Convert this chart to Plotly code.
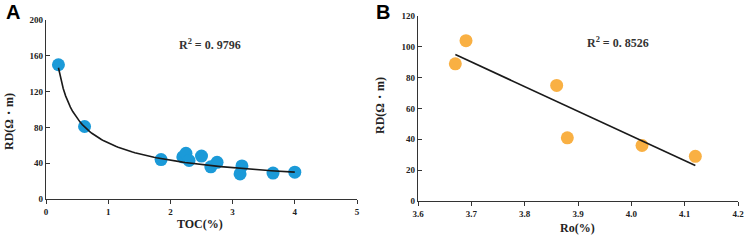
import numpy as np
import plotly.graph_objects as go

# Panel A data
toc = [0.2, 0.62, 1.85, 2.2, 2.25, 2.3, 2.5, 2.65, 2.75, 3.12, 3.15, 3.65, 4.0]
rd_a = [150, 81, 44, 47, 51, 43, 48, 36, 41, 28, 37, 29, 30]
# power fit y = a*x^b
fit_a_coef = 62.5
fit_a_exp = -0.53
# Panel B data
ro = [3.67, 3.69, 3.86, 3.88, 4.02, 4.12]
rd_b = [89, 104, 75, 41, 36, 29]
fit_b_x = [3.67, 4.12]
fit_b_y = [95, 23]

xt_a = [0, 1, 2, 3, 4, 5]
yt_a = [0, 40, 80, 120, 160, 200]
xt_b = [3.6, 3.7, 3.8, 3.9, 4.0, 4.1, 4.2]
xt_b_lab = ["3.6", "3.7", "3.8", "3.9", "4.0", "4.1", "4.2"]
yt_b = [0, 20, 40, 60, 80, 100, 120]

SERIF = "Liberation Serif"
fig = go.Figure()

xc = np.linspace(0.2, 4.0, 100)
fig.add_trace(go.Scatter(x=toc, y=rd_a, mode="markers",
                         marker=dict(color="#1B9AD8", size=13), xaxis="x", yaxis="y", showlegend=False))
fig.add_trace(go.Scatter(x=xc, y=fit_a_coef * xc ** fit_a_exp, mode="lines",
                         line=dict(color="#1a1a1a", width=1.6), xaxis="x", yaxis="y", showlegend=False))
fig.add_trace(go.Scatter(x=ro, y=rd_b, mode="markers",
                         marker=dict(color="#F9B043", size=13), xaxis="x2", yaxis="y2", showlegend=False))
fig.add_trace(go.Scatter(x=fit_b_x, y=fit_b_y, mode="lines",
                         line=dict(color="#1a1a1a", width=1.6), xaxis="x2", yaxis="y2", showlegend=False))

tickfont = dict(family=SERIF, size=9, color="#222", weight="bold")
common = dict(showgrid=False, zeroline=False, showline=True, linecolor="#333", linewidth=1.3,
              ticklen=4, tickcolor="#333", tickfont=tickfont, automargin=False, tickmode="array")

fig.update_layout(
    width=747, height=240,
    margin=dict(l=0, r=0, t=0, b=0),
    plot_bgcolor="white", paper_bgcolor="white",
    xaxis=dict(domain=[46/747, 357/747], range=[0, 5], tickvals=xt_a,
               ticks="outside", anchor="y", **common),
    yaxis=dict(domain=[41/240, 220/240], range=[0, 200], tickvals=yt_a,
               ticks="inside", anchor="x", **common),
    xaxis2=dict(domain=[418/747, 738/747], range=[3.6, 4.2], tickvals=xt_b, ticktext=xt_b_lab,
                ticks="outside", anchor="y2", **common),
    yaxis2=dict(domain=[39/240, 224/240], range=[0, 120], tickvals=yt_b,
                ticks="inside", anchor="x2", **common),
)

ann_font = dict(family=SERIF, size=12, color="#222")


def pann(text, px, py, font, angle=0):
    return dict(text=text, x=px/747, y=1-py/240, xref="paper", yref="paper", showarrow=False,
                xanchor="center", yanchor="middle", textangle=angle, font=font)


anns = [
    dict(text="<b>R<sup>2</sup> = 0. 9796</b>", x=2.64, y=173, xref="x", yref="y", showarrow=False,
         xanchor="center", yanchor="middle", font=dict(family=SERIF, size=12, color="#333")),
    dict(text="<b>R<sup>2</sup> = 0. 8526</b>", x=3.975, y=102.5, xref="x2", yref="y2", showarrow=False,
         xanchor="center", yanchor="middle", font=dict(family=SERIF, size=12, color="#333")),
    pann("<b>TOC(%)</b>", 200, 224, ann_font),
    pann("<b>Ro(%)</b>", 577, 228, ann_font),
    pann("<b>RD(Ω・m)</b>", 9, 122, ann_font, -90),
    pann("<b>RD(Ω・m)</b>", 380, 106, ann_font, -90),
    pann("<b>A</b>", 13, 12, dict(family="Liberation Sans", size=20, color="black")),
    pann("<b>B</b>", 383, 12, dict(family="Liberation Sans", size=20, color="black")),
]
fig.update_layout(annotations=anns)

fig.write_html("out.html", config={"displayModeBar": False},
               post_script="document.body.style.margin='0';document.body.style.overflow='hidden';")
